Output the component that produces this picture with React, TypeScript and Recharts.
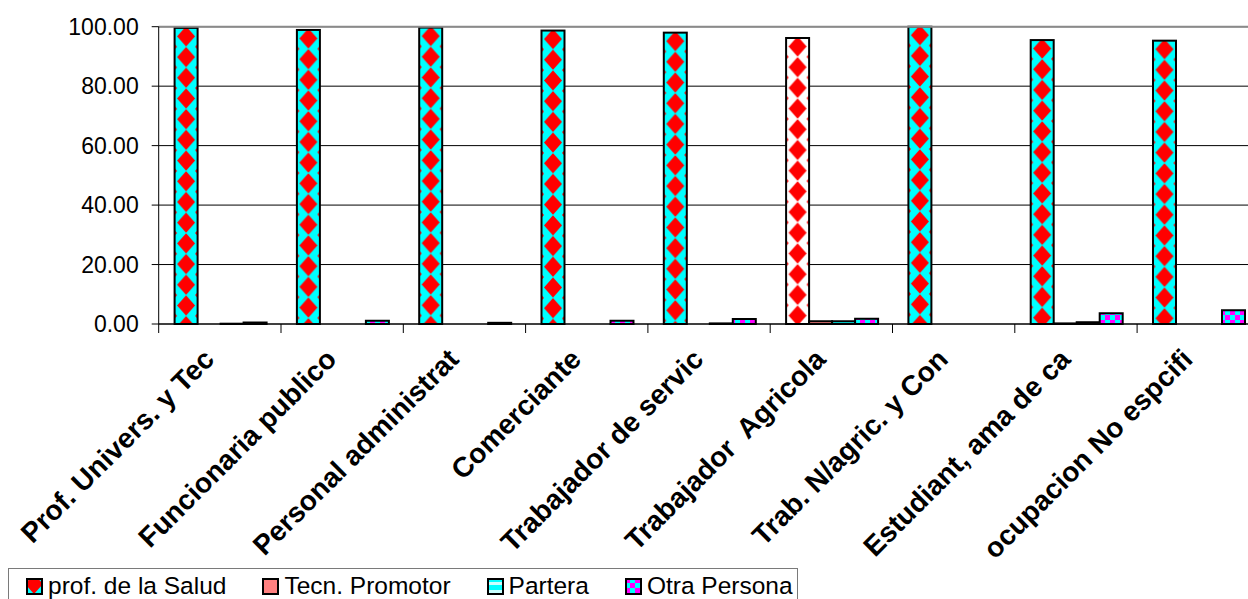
import React from "react";
import { BarChart, Bar, XAxis, YAxis, CartesianGrid, ReferenceLine, Cell } from "recharts";

// occupations (x axis)
const categories = [
  "Prof. Univers. y Tec",
  "Funcionaria publico",
  "Personal administrat",
  "Comerciante",
  "Trabajador de servic",
  "Trabajador  Agricola",
  "Trab. N/agric. y Con",
  "Estudiant, ama de ca",
  "ocupacion No espcifi",
];

// % per series
const profSalud = [99.6, 98.9, 99.7, 98.7, 98.0, 96.2, 100, 95.5, 95.3];
const tecnPromotor = [0, 0, 0, 0, 0, 0.9, 0, 0.2, 0];
const partera = [0.1, 0, 0, 0, 0.2, 0.9, 0, 0.6, 0];
const otraPersona = [0.5, 1.1, 0.4, 1.1, 1.7, 1.8, 0, 3.6, 4.6];

const yTicks = [0, 20, 40, 60, 80, 100];

const seriesNames = ["prof. de la Salud", "Tecn. Promotor", "Partera", "Otra Persona"];

const data = categories.map((name, i) => ({
  name,
  profSalud: profSalud[i],
  tecnPromotor: tecnPromotor[i],
  partera: partera[i],
  otraPersona: otraPersona[i],
}));

const FONT = "'Liberation Sans', Arial, Helvetica, sans-serif";
const CYAN = "#00FFFF";
const RED = "#FF0000";
const MAGENTA = "#FF00FF";
const SALMON = "#FF8080";
const PALE = "#C8FFFF";

// this bar is drawn on white instead of cyan in the original
const whiteBackground = new Set(["Trabajador  Agricola"]);

const diamondPath = (cx: number, cy: number, dx: number, dy: number) =>
  `M${cx} ${cy - dy} L${cx + dx} ${cy} L${cx} ${cy + dy} L${cx - dx} ${cy} Z`;

function DiamondBar(props: any) {
  const { x, y, width, height, fill, index } = props;
  if (!(height > 0) || !(width > 0)) return null;
  const id = `diamond-${index}`;
  const pw = 36;
  const ph = 20.7;
  const dx = 9;
  const dy = 10;
  return (
    <g>
      <defs>
        <pattern
          id={id}
          patternUnits="userSpaceOnUse"
          x={x + width / 2 - pw / 2}
          y={y + 8.5 - ph / 2}
          width={pw}
          height={ph}
        >
          <path d={diamondPath(pw / 2, ph / 2, dx, dy)} fill={RED} />
          <path
            d={[
              diamondPath(0, 0, dx, dy),
              diamondPath(pw, 0, dx, dy),
              diamondPath(0, ph, dx, dy),
              diamondPath(pw, ph, dx, dy),
            ].join(" ")}
            fill={RED}
          />
        </pattern>
      </defs>
      <rect x={x} y={y} width={width} height={height} fill={fill} />
      <rect x={x} y={y} width={width} height={height} fill={`url(#${id})`} />
      <rect x={x} y={y} width={width} height={height} fill="none" stroke="#000" strokeWidth={2} />
    </g>
  );
}

function CategoryTick(props: any) {
  const { x, y, payload, width, visibleTicksCount } = props;
  const half =
    payload && typeof payload.offset === "number" && payload.offset > 0
      ? payload.offset
      : width / (visibleTicksCount || categories.length) / 2;
  const tx = x - 4;
  const ty = y + 28;
  return (
    <g>
      <line x1={x - half} x2={x - half} y1={y - 9} y2={y} stroke="#000" strokeWidth={1} />
      <text
        x={tx}
        y={ty}
        transform={`rotate(-45 ${tx} ${ty})`}
        textAnchor="end"
        fontSize={28}
        fontWeight="bold"
        fontFamily={FONT}
        fill="#000"
        style={{ whiteSpace: "pre" }}
      >
        {payload.value}
      </text>
    </g>
  );
}

function Swatch({ kind }: { kind: number }) {
  return (
    <svg width={17} height={17} style={{ display: "block", marginRight: 5, flexShrink: 0 }}>
      {kind === 0 && (
        <>
          <rect x={0} y={0} width={17} height={17} fill={CYAN} />
          <path d={diamondPath(8, 6, 9, 10)} fill={RED} />
        </>
      )}
      {kind === 1 && <rect x={0} y={0} width={17} height={17} fill={SALMON} />}
      {kind === 2 && <rect x={0} y={0} width={17} height={17} fill="url(#partera-fill)" />}
      {kind === 3 && <rect x={0} y={0} width={17} height={17} fill="url(#otra-fill)" />}
      <rect x={1} y={1} width={15} height={15} fill="none" stroke="#000" strokeWidth={2} />
    </svg>
  );
}

export default function App() {
  return (
    <div
      style={{
        position: "absolute",
        left: 0,
        top: 0,
        width: 1248,
        height: 599,
        overflow: "hidden",
        background: "#fff",
        fontFamily: FONT,
      }}
    >
      <svg width={0} height={0} style={{ position: "absolute" }}>
        <defs>
          <pattern id="otra-fill" patternUnits="userSpaceOnUse" width={10} height={10}>
            <rect x={0} y={0} width={10} height={10} fill={CYAN} />
            <rect x={0} y={0} width={5} height={5} fill={MAGENTA} />
            <rect x={5} y={5} width={5} height={5} fill={MAGENTA} />
          </pattern>
          <pattern id="partera-fill" patternUnits="userSpaceOnUse" width={8} height={8}>
            <rect x={0} y={0} width={8} height={8} fill={CYAN} />
            <rect x={0} y={4} width={8} height={3} fill={PALE} />
          </pattern>
        </defs>
      </svg>

      <BarChart
        width={1270}
        height={599}
        data={data}
        margin={{ top: 26.7, right: 10.6, left: 0, bottom: 0 }}
        barCategoryGap="13%"
        barGap={0}
      >
        <CartesianGrid vertical={false} stroke="#000" strokeWidth={1} />
        <XAxis
          dataKey="name"
          height={275}
          interval={0}
          tickLine={false}
          tickSize={9}
          tickMargin={0}
          tick={<CategoryTick />}
          axisLine={{ stroke: "#000" }}
        />
        <YAxis
          width={158.7}
          domain={[0, 100]}
          ticks={yTicks}
          interval={0}
          tickFormatter={(v: number) => v.toFixed(2)}
          tickSize={7}
          tickMargin={13}
          tick={{ fontSize: 23, fill: "#000", fontFamily: FONT }}
          axisLine={{ stroke: "#000" }}
          tickLine={{ stroke: "#000" }}
        />
        <ReferenceLine y={100} stroke="#8a8a8a" strokeWidth={2} />
        <Bar dataKey="profSalud" name={seriesNames[0]} shape={(p: any) => <DiamondBar {...p} />} isAnimationActive={false}>
          {data.map((d) => (
            <Cell key={d.name} fill={whiteBackground.has(d.name) ? "#FFFFFF" : CYAN} />
          ))}
        </Bar>
        <Bar dataKey="tecnPromotor" name={seriesNames[1]} fill={SALMON} stroke="#000" strokeWidth={2} isAnimationActive={false} />
        <Bar dataKey="partera" name={seriesNames[2]} fill="url(#partera-fill)" stroke="#000" strokeWidth={2} isAnimationActive={false} />
        <Bar dataKey="otraPersona" name={seriesNames[3]} fill="url(#otra-fill)" stroke="#000" strokeWidth={2} isAnimationActive={false} />
      </BarChart>

      <div
        style={{
          position: "absolute",
          left: 8,
          top: 568,
          width: 790,
          height: 40,
          border: "1.5px solid #7a7a7a",
          background: "#fff",
          display: "flex",
          alignItems: "center",
          paddingLeft: 17,
          paddingBottom: 4,
          boxSizing: "border-box",
          fontSize: 24.5,
          lineHeight: "28px",
          color: "#000",
          whiteSpace: "nowrap",
        }}
      >
        {seriesNames.map((n, i) => (
          <div key={n} style={{ display: "flex", alignItems: "center", marginRight: 36, flexShrink: 0 }}>
            <Swatch kind={i} />
            <span>{n}</span>
          </div>
        ))}
      </div>
    </div>
  );
}
